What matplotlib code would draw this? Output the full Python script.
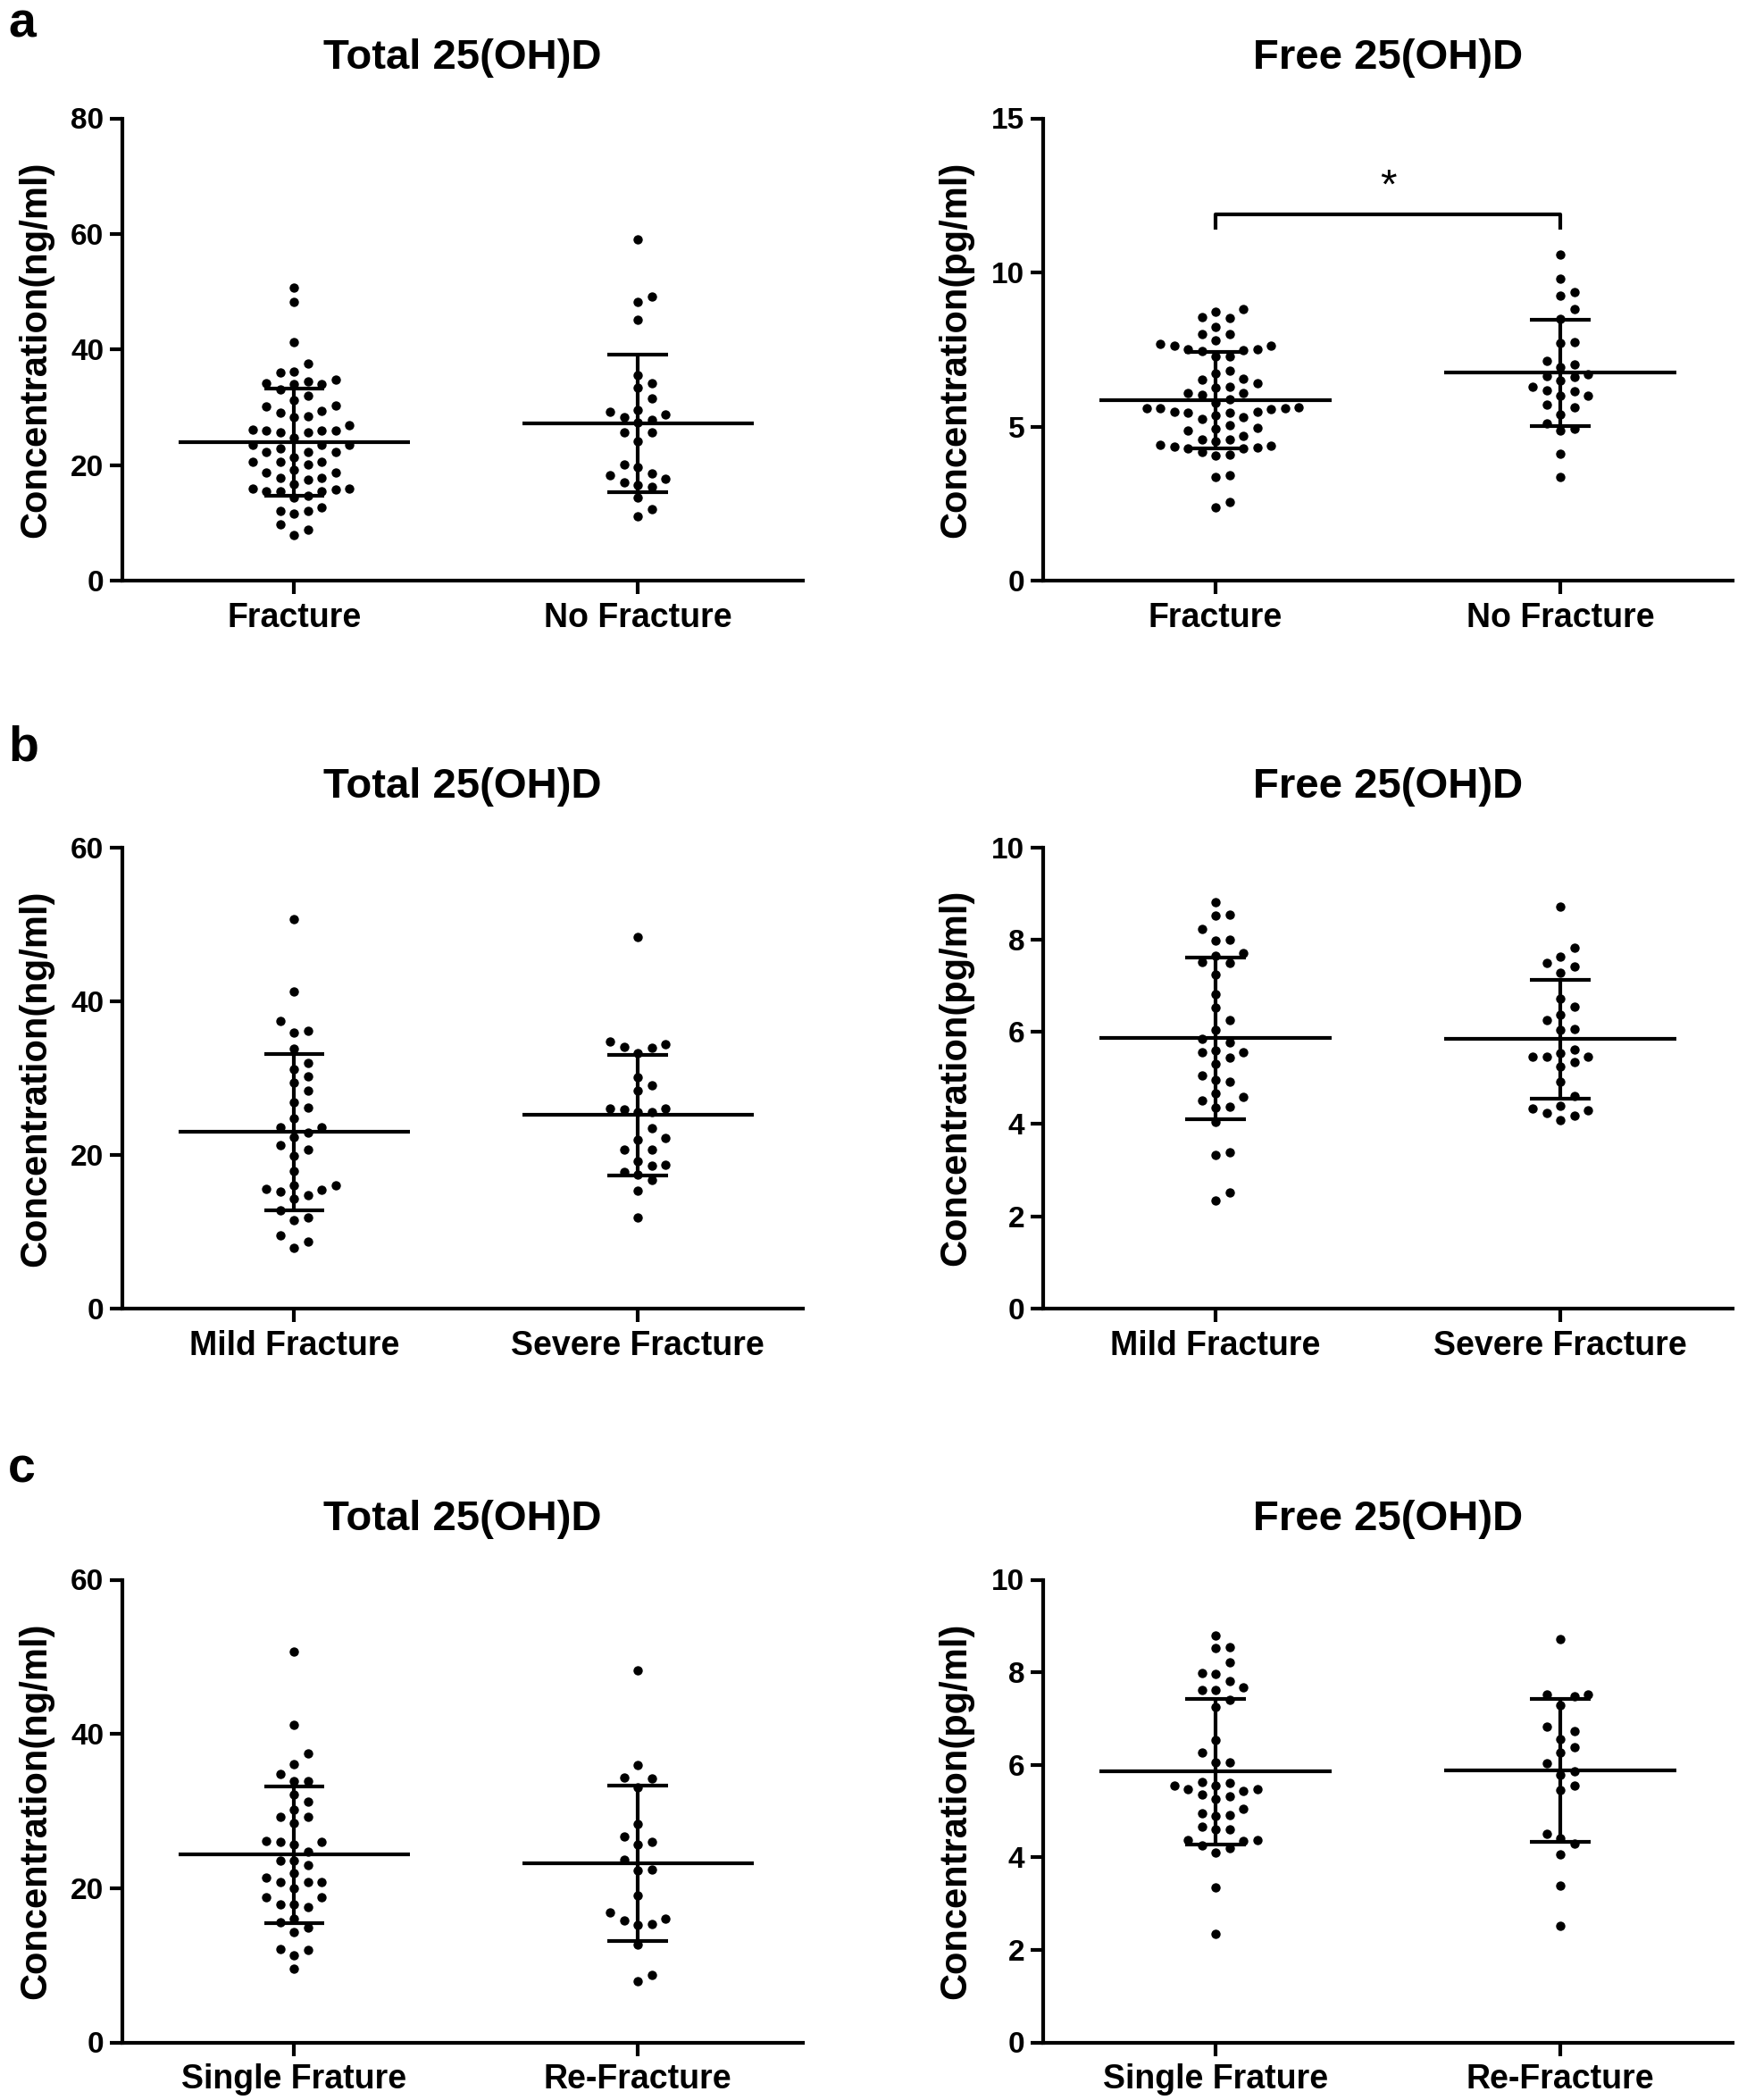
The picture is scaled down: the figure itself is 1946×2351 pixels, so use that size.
import matplotlib
matplotlib.use("Agg")
import matplotlib.pyplot as plt
import numpy as np

plt.rcParams['font.family'] = ['Liberation Sans', 'DejaVu Sans']
plt.rcParams['font.weight'] = 'bold'

# ---- values ----
# a: Fracture vs No Fracture
a_total_fx = [50.7, 48.3, 41.2, 37.5, 36.0, 36.2, 34.4, 34.0, 34.0, 34.1,
              34.8, 33.1, 31.2, 32.0, 30.3, 29.4, 28.4, 28.3, 29.1, 30.2,
              26.9, 26.0, 26.0, 25.7, 25.7, 26.0, 26.1, 24.8, 23.5, 23.5,
              22.9, 23.5, 22.2, 22.2, 22.3, 21.4, 20.6, 20.1, 20.6, 20.6,
              19.2, 18.7, 17.8, 17.4, 17.8, 18.7, 16.7, 16.0, 15.5, 15.4,
              14.4, 14.7, 15.5, 15.7, 16.0, 12.7, 12.0, 11.6, 12.0, 9.7,
              8.8, 7.9]
a_total_nofx = [59.1, 49.1, 48.3, 45.1, 35.6, 34.1, 33.4, 31.5, 29.6, 28.8,
                29.2, 27.9, 28.3, 27.3, 25.6, 25.6, 24.1, 20.1, 19.6, 18.6,
                18.3, 17.6, 17.0, 16.3, 16.6, 14.3, 12.4, 11.1]
a_free_fx = [8.72, 8.52, 8.55, 8.82, 8.24, 8.00, 7.81, 8.00, 7.68, 7.63,
             7.52, 7.44, 7.28, 7.28, 7.49, 7.52, 7.63, 6.81, 6.73, 6.54,
             6.40, 6.52, 6.25, 6.28, 6.09, 6.04, 6.09, 5.87, 5.78, 5.60,
             5.57, 5.49, 5.46, 5.36, 5.60, 5.58, 5.62, 5.24, 5.31, 5.44,
             5.49, 4.96, 4.88, 4.93, 5.05, 4.59, 4.59, 4.69, 4.42, 4.38,
             4.28, 4.17, 4.06, 4.09, 4.28, 4.33, 4.35, 4.52, 3.41, 3.35,
             2.37, 2.54]
a_free_nofx = [10.58, 9.79, 9.37, 9.26, 8.81, 8.48, 7.75, 7.71, 7.12, 7.01,
               6.93, 6.69, 6.60, 6.65, 6.49, 6.28, 6.18, 6.14, 5.99, 6.01,
               5.70, 5.63, 5.39, 5.10, 4.88, 4.93, 4.11, 3.35]

# b: Mild vs Severe fracture
b_total_mild = [50.7, 41.2, 37.4, 36.1, 35.9, 33.8, 32.0, 31.1, 30.2, 29.4,
                28.4, 26.8, 26.1, 24.7, 23.6, 23.6, 22.9, 22.3, 21.3, 20.7,
                19.9, 17.9, 16.0, 15.6, 15.2, 14.7, 15.5, 16.0, 14.3, 12.8,
                11.9, 11.5, 9.5, 8.7, 7.9]
b_total_severe = [48.3, 34.4, 33.9, 33.2, 34.0, 34.7, 30.1, 29.1, 28.3, 26.0,
                  25.6, 25.6, 26.0, 25.9, 23.5, 22.2, 22.0, 20.7, 20.7, 19.2,
                  18.6, 18.7, 17.8, 17.4, 16.7, 15.3, 11.9]
b_free_mild = [8.81, 8.53, 8.54, 8.23, 7.99, 7.97, 7.71, 7.64, 7.49, 7.52,
               7.25, 6.81, 6.53, 6.26, 6.04, 5.85, 5.78, 5.55, 5.44, 5.55,
               5.60, 5.31, 5.05, 4.91, 4.96, 4.67, 4.51, 4.58, 4.37, 4.36,
               4.05, 3.39, 3.34, 2.52, 2.34]
b_free_severe = [8.71, 7.82, 7.63, 7.50, 7.42, 7.29, 6.71, 6.55, 6.38, 6.25,
                 6.06, 6.04, 5.62, 5.54, 5.47, 5.47, 5.34, 5.47, 5.24, 4.91,
                 4.60, 4.40, 4.34, 4.25, 4.09, 4.18, 4.29]

# c: Single fracture vs Re-fracture
c_total_single = [50.7, 41.2, 37.5, 36.1, 34.8, 33.9, 33.9, 32.1, 31.2, 30.2,
                  29.2, 29.3, 28.4, 26.1, 26.0, 25.6, 26.0, 24.7, 23.6, 23.0,
                  23.6, 21.9, 21.4, 20.8, 20.8, 20.8, 20.0, 18.8, 17.9, 17.9,
                  18.8, 17.5, 16.1, 15.6, 14.9, 14.3, 12.1, 12.0, 11.3, 9.6]
c_total_re = [48.3, 36.0, 34.2, 34.4, 33.1, 28.3, 26.7, 26.0, 25.6, 23.7,
              22.4, 22.3, 19.1, 16.8, 15.8, 16.0, 15.2, 15.4, 12.7, 8.8, 7.9]
c_free_single = [8.80, 8.52, 8.54, 8.22, 7.98, 7.96, 7.81, 7.67, 7.62, 7.62,
                 7.41, 7.25, 6.53, 6.27, 6.05, 6.05, 5.61, 5.55, 5.55, 5.63,
                 5.48, 5.48, 5.43, 5.31, 5.26, 5.35, 5.04, 4.96, 4.89, 4.92,
                 4.66, 4.60, 4.60, 4.37, 4.36, 4.37, 4.26, 4.19, 4.10, 3.35,
                 2.35]
c_free_re = [8.72, 7.51, 7.49, 7.51, 7.29, 6.82, 6.56, 6.72, 6.38, 6.26,
             6.03, 5.85, 5.78, 5.55, 5.45, 4.51, 4.41, 4.30, 4.06, 3.39, 2.52]

# mean and SD bars as drawn
a_total_mean, a_total_sd = [23.96, 27.2], [9.25, 11.85]
a_free_mean, a_free_sd = [5.85, 6.74], [1.565, 1.73]
b_total_mean, b_total_sd = [22.97, 25.17], [10.15, 7.85]
b_free_mean, b_free_sd = [5.86, 5.84], [1.75, 1.29]
c_total_mean, c_total_sd = [24.33, 23.22], [8.85, 10.05]
c_free_mean, c_free_sd = [5.85, 5.87], [1.57, 1.545]

labels_a = ["Fracture", "No Fracture"]
labels_b = ["Mild Fracture", "Severe Fracture"]
labels_c = ["Single Frature", "Re-Fracture"]

# significance bracket in panel a (free)
sig_y = [11.45, 11.87]
sig_text = "*"

W, H = 1946, 2351
fig = plt.figure(figsize=(W / 100, H / 100), dpi=100)

LW = 3.0


def swarm(vals, px_per_y, step, min_dy):
    # simple column-packing beeswarm, in pixel units
    vals = np.asarray(vals)
    cols = {}
    off = np.zeros(len(vals))
    for i in np.argsort(vals):
        y = vals[i] * px_per_y
        for k in [0, 1, -1, 2, -2, 3, -3, 4, -4, 5, -5, 6, -6]:
            if all(abs(y - yy) >= min_dy for yy in cols.get(k, [])):
                cols.setdefault(k, []).append(y)
                off[i] = k
                break
    return off * step


def panel(rect, xlim, groups, means, sds, labels, ymax, ystep, ylabel, title):
    ax = fig.add_axes(rect)
    ax.set_xlim(*xlim)
    ax.set_ylim(0, ymax)
    for s in ["top", "right"]:
        ax.spines[s].set_visible(False)
    for s in ["left", "bottom"]:
        ax.spines[s].set_linewidth(LW)
    ax.set_yticks(np.arange(0, ymax + 0.01, ystep))
    ax.set_xticks([0, 1])
    ax.set_xticklabels(labels, fontsize=27, fontweight="bold")
    ax.tick_params(axis="y", direction="out", length=10, width=LW,
                   labelsize=24, pad=5)
    ax.tick_params(axis="x", direction="out", length=11, width=LW, pad=6)
    for t in ax.get_yticklabels():
        t.set_fontweight("bold")

    px_y = rect[3] * H / ymax
    px_x = rect[2] * W / (xlim[1] - xlim[0])
    step = 15.5 / px_x
    for i, vals in enumerate(groups):
        xs = i + swarm(vals, px_y, step, 14.0)
        ax.scatter(xs, vals, s=56, c="black", linewidths=0, zorder=3,
                   clip_on=False)
        m, sd = means[i], sds[i]
        ax.plot([i - 0.337, i + 0.337], [m, m], color="black", lw=LW,
                zorder=4, solid_capstyle="butt")
        ax.plot([i, i], [m - sd, m + sd], color="black", lw=LW, zorder=4,
                solid_capstyle="butt")
        for yy in (m - sd, m + sd):
            ax.plot([i - 0.088, i + 0.088], [yy, yy], color="black", lw=LW,
                    zorder=4, solid_capstyle="butt")

    ax.set_ylabel(ylabel, fontsize=30, fontweight="bold", va="center")
    ax.yaxis.set_label_coords(-0.127, 0.5)
    ax.set_title(title, fontsize=34, fontweight="bold", pad=40)
    return ax


left_l, width_l = 137 / W, 762 / W
left_r, width_r = 1168 / W, 772 / W
rows = [(650, 517.5), (1465, 516.4), (2286.5, 518)]
XL = [(-0.5, 1.48), (-0.5, 1.5)]


def rect(col, row):
    bot, h = rows[row]
    if col == 0:
        return [left_l, 1 - bot / H, width_l, h / H]
    return [left_r, 1 - bot / H, width_r, h / H]


ng = "Concentration(ng/ml)"
pg = "Concentration(pg/ml)"
tt = "Total 25(OH)D"
ft = "Free 25(OH)D"

panel(rect(0, 0), XL[0], [a_total_fx, a_total_nofx], a_total_mean,
      a_total_sd, labels_a, 80, 20, ng, tt)
ax_af = panel(rect(1, 0), XL[1], [a_free_fx, a_free_nofx], a_free_mean,
              a_free_sd, labels_a, 15, 5, pg, ft)
ax_af.plot([0, 0, 1, 1], [sig_y[0], sig_y[1], sig_y[1], sig_y[0]],
           color="black", lw=LW)
ax_af.text(0.5, 12.75, sig_text, fontsize=34, ha="center", va="center",
           fontweight="normal")

panel(rect(0, 1), XL[0], [b_total_mild, b_total_severe], b_total_mean,
      b_total_sd, labels_b, 60, 20, ng, tt)
panel(rect(1, 1), XL[1], [b_free_mild, b_free_severe], b_free_mean,
      b_free_sd, labels_b, 10, 2, pg, ft)

panel(rect(0, 2), XL[0], [c_total_single, c_total_re], c_total_mean,
      c_total_sd, labels_c, 60, 20, ng, tt)
panel(rect(1, 2), XL[1], [c_free_single, c_free_re], c_free_mean,
      c_free_sd, labels_c, 10, 2, pg, ft)

for letter, ypx in [("a", 41), ("b", 851), ("c", 1660)]:
    fig.text(9 / W, 1 - ypx / H, letter, fontsize=40, fontweight="bold",
             ha="left", va="baseline")

fig.savefig("out.png", dpi=100, facecolor="white")
